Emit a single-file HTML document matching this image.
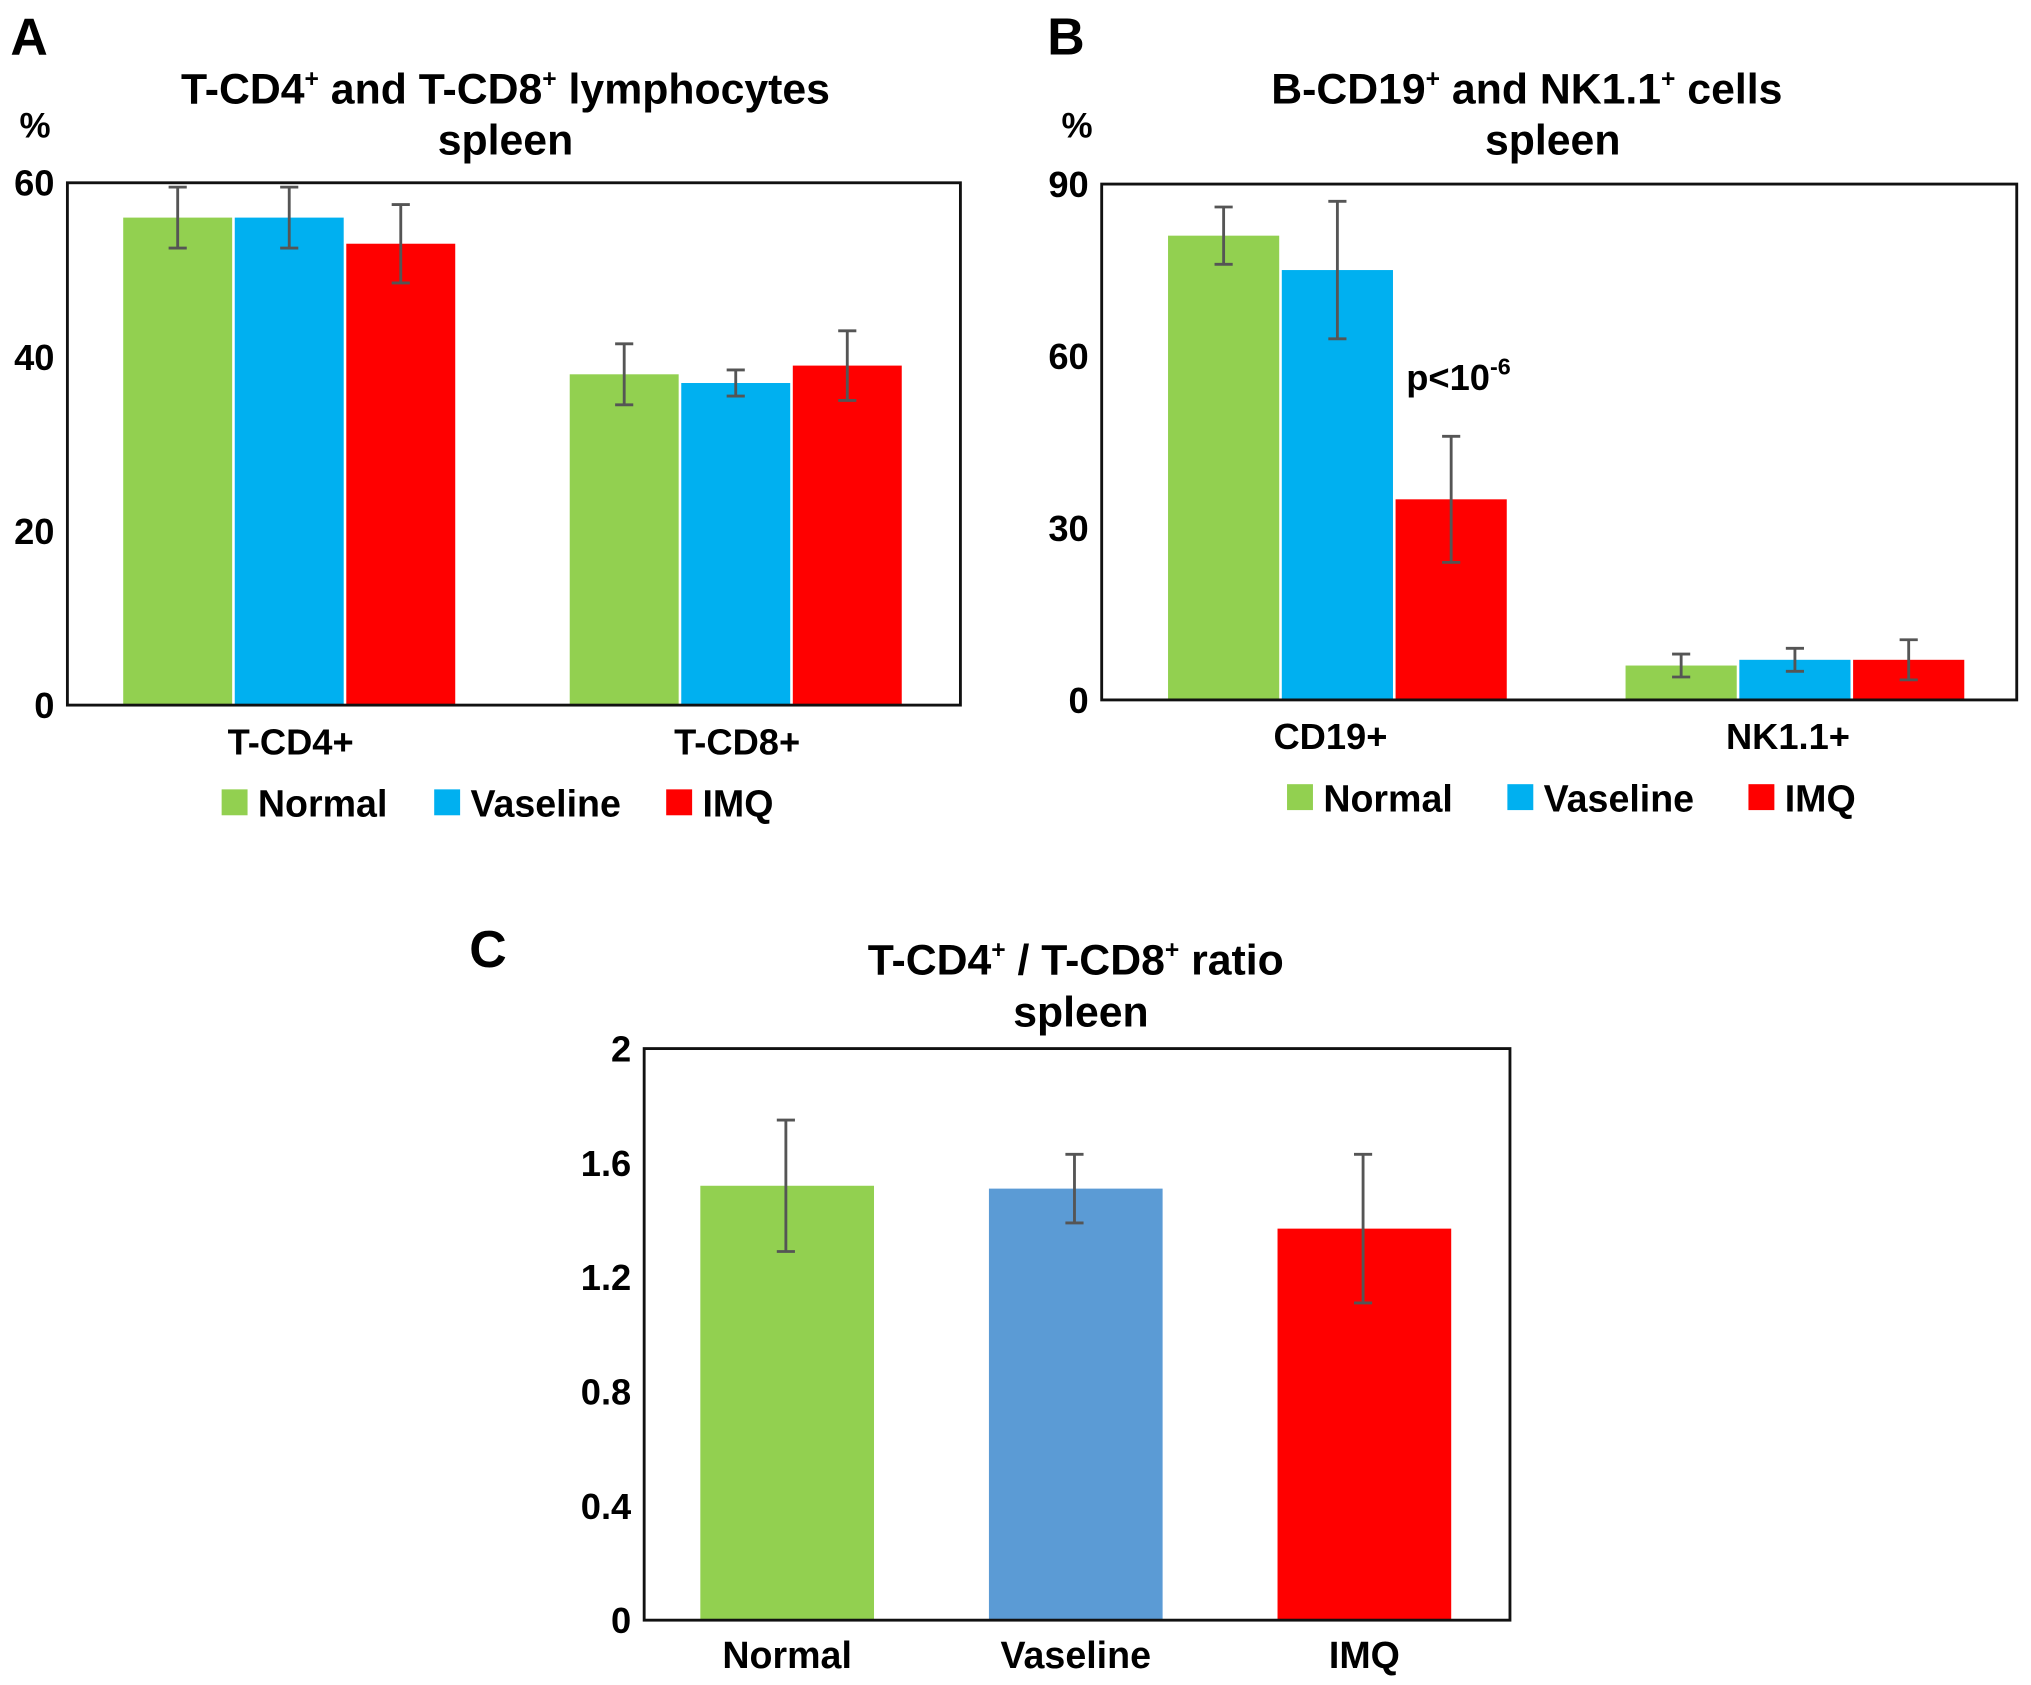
<!DOCTYPE html>
<html><head><meta charset="utf-8"><style>
html,body{margin:0;padding:0;background:#fff;}
svg{display:block;font-family:"Liberation Sans",sans-serif;font-weight:bold;}
</style></head><body>
<svg id="fig" width="2031" height="1685" viewBox="0 0 1567 1300" xmlns="http://www.w3.org/2000/svg">
<text x="8" y="42" font-size="40">A</text>
<text x="390" y="80" font-size="33" text-anchor="middle">T-CD4<tspan font-size="19" dy="-13">+</tspan><tspan dy="13"> and T-CD8</tspan><tspan font-size="19" dy="-13">+</tspan><tspan dy="13"> lymphocytes</tspan></text>
<text x="390" y="119" font-size="33" text-anchor="middle">spleen</text>
<text x="27" y="106" font-size="27" text-anchor="middle">%</text>

<text x="808" y="42" font-size="40">B</text>
<text x="1178" y="80" font-size="33" text-anchor="middle">B-CD19<tspan font-size="19" dy="-13">+</tspan><tspan dy="13"> and NK1.1</tspan><tspan font-size="19" dy="-13">+</tspan><tspan dy="13"> cells</tspan></text>
<text x="1198" y="119" font-size="33" text-anchor="middle">spleen</text>
<text x="831" y="106" font-size="27" text-anchor="middle">%</text>
<text x="1085" y="301" font-size="28">p&lt;10<tspan font-size="18" dy="-12">-6</tspan></text>

<text x="362" y="746" font-size="40">C</text>
<text x="830" y="752" font-size="33" text-anchor="middle">T-CD4<tspan font-size="19" dy="-13">+</tspan><tspan dy="13"> / T-CD8</tspan><tspan font-size="19" dy="-13">+</tspan><tspan dy="13"> ratio</tspan></text>
<text x="834" y="792" font-size="33" text-anchor="middle">spleen</text>
</svg>
<script>
// Panel A data
const aCategories = ["T-CD4+", "T-CD8+"];
const aNormal = [56, 38];
const aVaseline = [56, 37];
const aIMQ = [53, 39];
const aNormalErr = [3.5, 3.5];
const aVaselineErr = [3.5, 1.5];
const aIMQErr = [4.5, 4];
const aTicks = [0, 20, 40, 60];
// Panel B data
const bCategories = ["CD19+", "NK1.1+"];
const bNormal = [81, 6];
const bVaseline = [75, 7];
const bIMQ = [35, 7];
const bNormalErr = [5, 2];
const bVaselineErr = [12, 2];
const bIMQErr = [11, 3.5];
const bTicks = [0, 30, 60, 90];
// Panel C data
const cCategories = ["Normal", "Vaseline", "IMQ"];
const cValues = [1.52, 1.51, 1.37];
const cErr = [0.23, 0.12, 0.26];
const cTicks = ["0", "0.4", "0.8", "1.2", "1.6", "2"];
const seriesNames = ["Normal", "Vaseline", "IMQ"];

const NS = "http://www.w3.org/2000/svg";
const svg = document.getElementById("fig");
function mk(tag, attrs, parent) {
  const e = document.createElementNS(NS, tag);
  for (const k in attrs) e.setAttribute(k, attrs[k]);
  (parent || svg).appendChild(e);
  return e;
}
function errBar(x, yTop, yBot, name) {
  const g = mk("g", {stroke: "#555", "stroke-width": 2.2});
  
  
  mk("line", {x1: x, x2: x, y1: yTop, y2: yBot}, g);
  mk("line", {x1: x - 7, x2: x + 7, y1: yTop, y2: yTop}, g);
  mk("line", {x1: x - 7, x2: x + 7, y1: yBot, y2: yBot}, g);
}
function groupedChart(p, cats, series, errs, ticks, colors, legendX, legendW) {
  const y = v => p.y1 - (v - ticks[0]) / (ticks[ticks.length - 1] - ticks[0]) * (p.y1 - p.y0);
  const gw = (p.x1 - p.x0) / cats.length;
  const bw = gw * p.bwf, off = gw * p.off, gap = 2;
  ticks.forEach(t => {
    const tx = mk("text", {x: p.x0 - 10, y: y(t) + 10, "font-size": 28, "text-anchor": "end"});
    tx.textContent = t;
    
    
  });
  cats.forEach((c, i) => {
    series.forEach((s, j) => {
      const bx = p.x0 + gw * i + off + j * (bw + gap);
      const r = mk("rect", {x: bx, y: y(s[i]), width: bw, height: y(0) - y(s[i]), fill: colors[j]});
      
      
      errBar(bx + bw / 2, y(s[i] + errs[j][i]), y(s[i] - errs[j][i]), p.id + '-error-bar');
    });
    const lt = mk("text", {x: p.x0 + gw * i + gw / 2, y: p.y1 + 38, "font-size": 28, "text-anchor": "middle"});
    lt.textContent = c;
    
    
  });
  const frame = mk("rect", {x: p.x0, y: p.y0, width: p.x1 - p.x0, height: p.y1 - p.y0, fill: "none", stroke: "#111", "stroke-width": 2.2});
  
  
  seriesNames.forEach((n, j) => {
    const lx = legendX + legendW[j];
    const g = mk("g", {});
    
    
    mk("rect", {x: lx, y: p.y1 + 65, width: 20, height: 20, fill: colors[j]}, g);
    const t = mk("text", {x: lx + 28, y: p.y1 + 86, "font-size": 29}, g);
    t.textContent = n;
  });
}
const cols = ["#92d050", "#00b0f0", "#ff0000"];
groupedChart({id: "panel-a", x0: 52, x1: 741, y0: 141, y1: 544, off: 0.125, bwf: 0.244}, aCategories,
  [aNormal, aVaseline, aIMQ], [aNormalErr, aVaselineErr, aIMQErr], aTicks, cols, 171, [0, 164, 343]);
groupedChart({id: "panel-b", x0: 850, x1: 1556, y0: 142, y1: 540, off: 0.145, bwf: 0.243}, bCategories,
  [bNormal, bVaseline, bIMQ], [bNormalErr, bVaselineErr, bIMQErr], bTicks, cols, 993, [0, 170, 356]);

// Panel C
(function () {
  const p = {x0: 497, x1: 1165, y0: 809, y1: 1250};
  const tv = cTicks.map(Number);
  const y = v => p.y1 - v / tv[tv.length - 1] * (p.y1 - p.y0);
  const cc = ["#92d050", "#5b9bd5", "#ff0000"];
  const bw = 134, cw = (p.x1 - p.x0) / cCategories.length;
  cTicks.forEach(t => {
    const tx = mk("text", {x: p.x0 - 10, y: y(Number(t)) + 10, "font-size": 28, "text-anchor": "end"});
    tx.textContent = t;
    
    
  });
  cCategories.forEach((c, i) => {
    const cx = p.x0 + cw * i + cw / 2 - 1;
    const r = mk("rect", {x: cx - bw / 2, y: y(cValues[i]), width: bw, height: y(0) - y(cValues[i]), fill: cc[i]});
    
    
    errBar(cx - 1, y(cValues[i] + cErr[i]), y(cValues[i] - cErr[i]), 'panel-c-error-bar');
    const lt = mk("text", {x: cx, y: p.y1 + 37, "font-size": 29, "text-anchor": "middle"});
    lt.textContent = c;
    
    
  });
  const frame = mk("rect", {x: p.x0, y: p.y0, width: p.x1 - p.x0, height: p.y1 - p.y0, fill: "none", stroke: "#111", "stroke-width": 2.2});
  
  
})();
</script>
</body></html>
